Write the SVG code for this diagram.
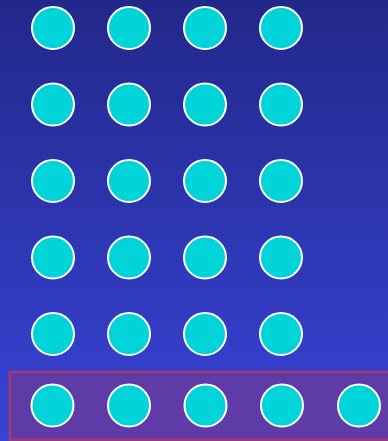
<svg xmlns="http://www.w3.org/2000/svg" width="388" height="441" viewBox="0 0 388 441">
<defs>
<linearGradient id="bg" x1="0" y1="0" x2="0" y2="1">
<stop offset="0" stop-color="#22288a"/>
<stop offset="1" stop-color="#3843d6"/>
</linearGradient>
<style>
.n{fill:#00d4d8;stroke:#ffffff;stroke-width:2}
</style>
</defs>
<rect x="0" y="0" width="388" height="441" fill="url(#bg)"/>
<rect id="highlight" x="10" y="372" width="390" height="68" fill="#5f3ba8" stroke="#983a7e" stroke-width="3"/>
<g id="connectors"></g>
<g id="r1"><circle class="n" cx="53" cy="28" r="21"/><circle class="n" cx="129" cy="28" r="21"/><circle class="n" cx="205" cy="28" r="21"/><circle class="n" cx="281" cy="28" r="21"/></g>
<g id="r2"><circle class="n" cx="53" cy="104.5" r="21"/><circle class="n" cx="129" cy="104.5" r="21"/><circle class="n" cx="205" cy="104.5" r="21"/><circle class="n" cx="281" cy="104.5" r="21"/></g>
<g id="r3"><circle class="n" cx="53" cy="181" r="21"/><circle class="n" cx="129" cy="181" r="21"/><circle class="n" cx="205" cy="181" r="21"/><circle class="n" cx="281" cy="181" r="21"/></g>
<g id="r4"><circle class="n" cx="53" cy="257.5" r="21"/><circle class="n" cx="129" cy="257.5" r="21"/><circle class="n" cx="205" cy="257.5" r="21"/><circle class="n" cx="281" cy="257.5" r="21"/></g>
<g id="r5"><circle class="n" cx="53" cy="334" r="21"/><circle class="n" cx="129" cy="334" r="21"/><circle class="n" cx="205" cy="334" r="21"/><circle class="n" cx="281" cy="334" r="21"/></g>
<g id="r6"><circle class="n" cx="52.5" cy="405.5" r="21"/><circle class="n" cx="129" cy="405.5" r="21"/><circle class="n" cx="205.5" cy="405.5" r="21"/><circle class="n" cx="282" cy="405.5" r="21"/><circle class="n" cx="359" cy="405.5" r="21"/></g>
</svg>
